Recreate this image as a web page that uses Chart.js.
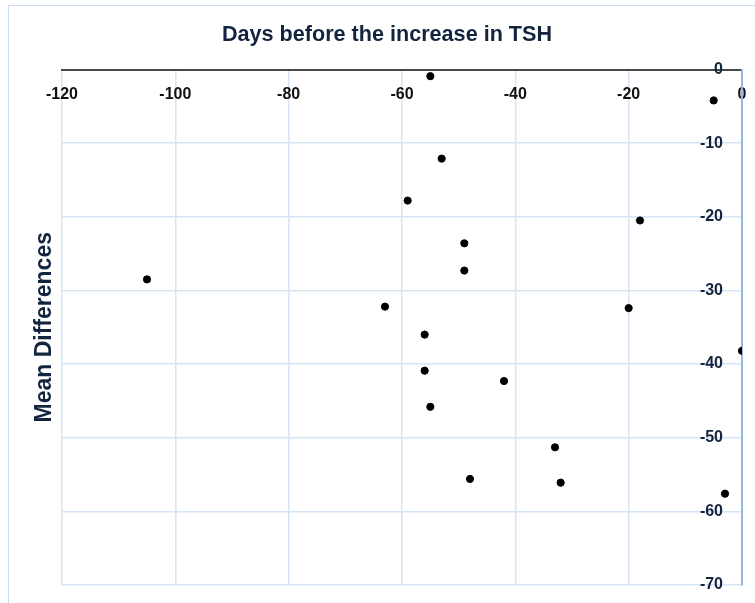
<!DOCTYPE html>
<html>
<head>
<meta charset="utf-8">
<script src="https://cdn.jsdelivr.net/npm/chart.js@4.4.1/dist/chart.umd.min.js"></script>
<style>
  body { margin: 0; background: #fff; }
  #wrap { position: relative; width: 755px; height: 603px; overflow: hidden; }
  #frame { position: absolute; left: 8px; top: 5px; width: 800px; height: 700px; border: 1px solid #c9dcf2; }
  #chart { position: absolute; left: 0; top: 0; }
</style>
</head>
<body>
<div id="wrap">
  <div id="frame"></div>
  <canvas id="chart" width="755" height="603"></canvas>
</div>
<script>
// days before the TSH increase, and mean difference for each case
const days = [-55, -5, -53, -59, -18, -49, -49, -105, -63, -20, -56, 0, -56, -42, -55, -33, -48, -32, -3]
const meanDiff = [-0.9, -4.2, -12.1, -17.8, -20.5, -23.6, -27.3, -28.5, -32.2, -32.4, -36.0, -38.2, -40.9, -42.3, -45.8, -51.3, -55.6, -56.1, -57.6]

const xMin = -120, xMax = 0, xStep = 20
const yMin = -70, yMax = 0, yStep = 10

const chartTitle = 'Days before the increase in TSH'
const yTitle = 'Mean Differences'

const navy = '#13243f'
const gridBlue = '#d6e4f4'
const fontFamily = "'Liberation Sans', Arial, sans-serif"

const points = days.map((d, i) => ({ x: d, y: meanDiff[i] }))

new Chart(document.getElementById('chart').getContext('2d'), {
    type: 'scatter',
    data: {
        datasets: [{
            data: points,
            backgroundColor: '#000',
            borderColor: '#000',
            pointRadius: 3.6,
            pointHoverRadius: 3.6
        }]
    },
    options: {
        responsive: false,
        animation: false,
        devicePixelRatio: 1,
        layout: { padding: { left: 19, right: 0, top: 0, bottom: 18 } },
        plugins: {
            legend: { display: false },
            tooltip: { enabled: false },
            title: {
                display: true,
                text: chartTitle,
                color: navy,
                font: { family: fontFamily, size: 21.6, weight: 'bold' },
                padding: { top: 22, bottom: 8 }
            }
        },
        scales: {
            x: {
                type: 'linear',
                position: 'top',
                min: xMin,
                max: xMax,
                // labels sit inside the plot, so no extra room is needed
                afterFit: s => { s.height = 13.6; s.paddingLeft = 0; s.paddingRight = 0 },
                ticks: {
                    stepSize: xStep,
                    mirror: true,
                    padding: 15,
                    color: '#111',
                    font: { family: fontFamily, size: 16, weight: 'bold' }
                },
                grid: { color: gridBlue, lineWidth: 1.5, drawTicks: false },
                border: { display: true, color: '#4a4a4a', width: 2 }
            },
            y: {
                type: 'linear',
                position: 'right',
                min: yMin,
                max: yMax,
                afterFit: s => { s.width = 13; s.paddingTop = 0; s.paddingBottom = 0 },
                ticks: {
                    stepSize: yStep,
                    mirror: true,
                    padding: -19,
                    color: navy,
                    font: { family: fontFamily, size: 16, weight: 'bold' }
                },
                grid: { color: gridBlue, lineWidth: 1.5, drawTicks: false },
                border: { display: true, color: '#8fb9e6', width: 2 }
            },
            yLabel: {
                type: 'linear',
                position: 'left',
                min: yMin,
                max: yMax,
                ticks: { display: false },
                grid: { display: false, drawTicks: false },
                border: { display: false },
                title: {
                    display: true,
                    text: yTitle,
                    color: navy,
                    font: { family: fontFamily, size: 23, weight: 'bold' },
                    padding: { top: 12, bottom: 3.4 }
                }
            }
        }
    }
})
</script>
</body>
</html>
